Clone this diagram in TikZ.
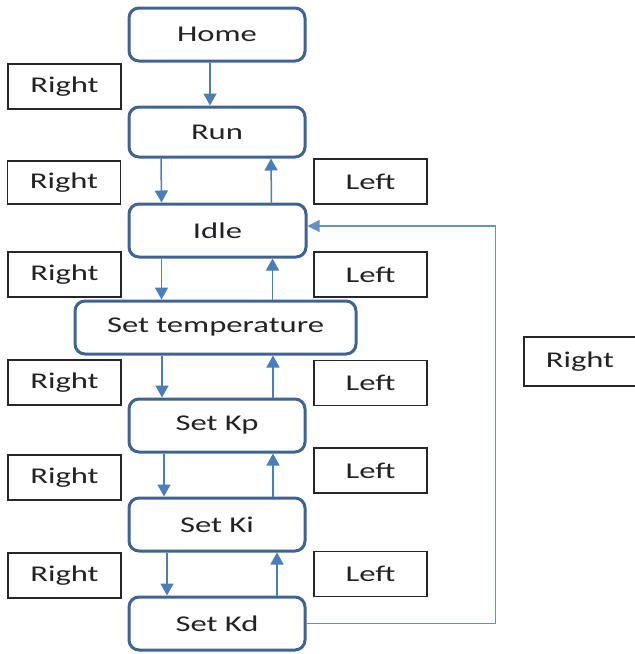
\documentclass[tikz,border=0pt]{standalone}
\usepackage{fontspec}
\setmainfont{Carlito}[FakeStretch=1.45]
\usetikzlibrary{arrows.meta}
\definecolor{boxblue}{RGB}{63,100,148}
\definecolor{arrblue}{RGB}{74,126,187}
\definecolor{txt}{RGB}{35,35,35}
\begin{document}
\begin{tikzpicture}[x=1pt,y=-1pt,
  state/.style={draw=boxblue,line width=3pt,rounded corners=10pt,minimum width=176pt,minimum height=53pt,inner sep=0pt,text=txt,font=\fontsize{22.5pt}{26pt}\selectfont},
  lab/.style={draw=black!85,line width=1.3pt,minimum width=113pt,minimum height=45pt,inner sep=0pt,text=txt,font=\fontsize{22.5pt}{26pt}\selectfont},
  arr/.style={draw=arrblue,line width=1.5pt,-{Triangle[width=13pt,length=12pt]},arrblue},
  fb/.style={draw=arrblue!85,line width=1.1pt,-{Triangle[width=12pt,length=12pt]}}]
\useasboundingbox (0,0) rectangle (635,654);
% states
\node[state] (home) at (217,34.5) {Home};
\node[state,minimum height=50pt] (run) at (217,132) {Run};
\node[state,minimum width=177pt] (idle) at (217.5,230.5) {Idle};
\node[state,minimum width=281pt] (temp) at (215.5,327.5) {Set temperature};
\node[state] (kp) at (217,425.5) {Set Kp};
\node[state] (ki) at (217,524.5) {Set Ki};
\node[state] (kd) at (217,623.5) {Set Kd};
% labels
\node[lab] (r1) at (64.5,86.5) {Right};
\node[lab,minimum height=43pt] (r2) at (64,182.5) {Right};
\node[lab] (r3) at (64.5,274.5) {Right};
\node[lab] (r4) at (64.5,382.5) {Right};
\node[lab] (r5) at (64.5,477.5) {Right};
\node[lab] (r6) at (64.5,575.5) {Right};
\node[lab] (l1) at (370.5,181.5) {Left};
\node[lab] (l2) at (370.5,274.5) {Left};
\node[lab] (l3) at (370.5,383) {Left};
\node[lab] (l4) at (370.5,470.5) {Left};
\node[lab] (l5) at (370.5,574) {Left};
\node[lab,minimum width=112pt,minimum height=49pt] (r7) at (580,361.5) {Right};
% arrows
\draw[arr] ([xshift=-7pt]home.south) -- ([xshift=-7pt]run.north);
\draw[arr] ([xshift=-56pt]run.south) -- ([xshift=-56pt]idle.north);
\draw[arr] ([xshift=54pt]idle.north) -- ([xshift=54pt]run.south);
\draw[arr] ([xshift=-56pt]idle.south) -- ([xshift=-56pt]idle.south |- temp.north);
\draw[arr] ([xshift=55pt]idle.south |- temp.north) -- ([xshift=55pt]idle.south);
\draw[arr] ([xshift=-55pt]kp.north |- temp.south) -- ([xshift=-55pt]kp.north);
\draw[arr] ([xshift=56pt]kp.north) -- ([xshift=56pt]kp.north |- temp.south);
\draw[arr] ([xshift=-53pt]kp.south) -- ([xshift=-53pt]ki.north);
\draw[arr] ([xshift=56pt]ki.north) -- ([xshift=56pt]kp.south);
\draw[arr] ([xshift=-50pt]ki.south) -- ([xshift=-50pt]kd.north);
\draw[arr] ([xshift=60pt]kd.north) -- ([xshift=60pt]ki.south);
\draw[fb] (kd.east) -- ++(189,0) |- ([yshift=4.5pt]idle.east);
\end{tikzpicture}
\end{document}
